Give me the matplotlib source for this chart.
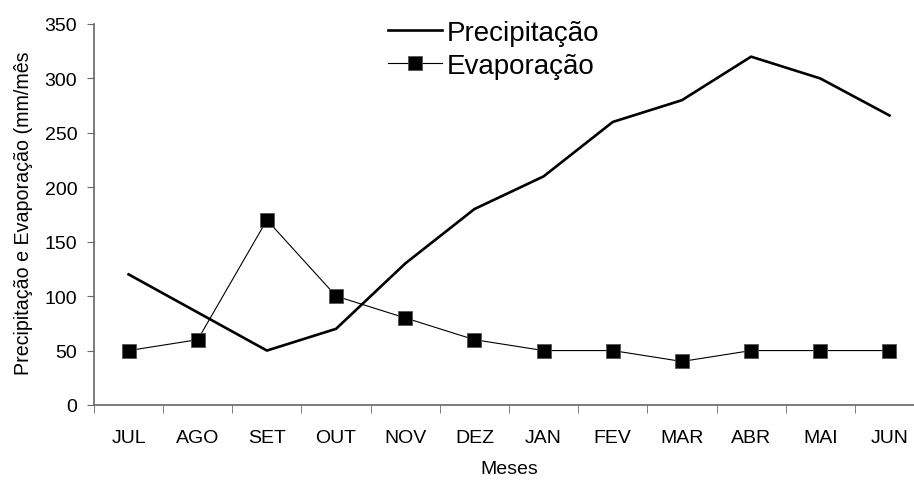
import matplotlib
matplotlib.use("Agg")
import matplotlib.pyplot as plt
import numpy as np

plt.rcParams['font.family'] = ['Liberation Sans', 'DejaVu Sans']

meses = ["JUL", "AGO", "SET", "OUT", "NOV", "DEZ", "JAN", "FEV", "MAR", "ABR", "MAI", "JUN"]
precipitacao = [120, 85, 50, 70, 130, 180, 210, 260, 280, 320, 300, 266]
evaporacao = [50, 60, 170, 100, 80, 60, 50, 50, 40, 50, 50, 50]

fig = plt.figure(figsize=(9.14, 4.81), dpi=100)
# axis runs a bit past the right edge, as in the original
ax = fig.add_axes([94 / 914, 1 - 406 / 481, 830 / 914, 381 / 481])

x = np.arange(len(meses))
ax.plot(x, precipitacao, color="black", lw=1.9, label="Precipitação", zorder=3)
ax.plot(x, evaporacao, color="black", lw=0.8, marker="s", markersize=10,
        markerfacecolor="black", markeredgecolor="#555555", markeredgewidth=0.6,
        label="Evaporação", zorder=4)

ax.set_xlim(-0.5, len(meses) - 0.5)
ax.set_ylim(0, 350)
ax.set_yticks(np.arange(0, 351, 50))
ax.set_xticks(x)
ax.set_xticklabels(meses)
ax.set_xticks(np.arange(-0.5, len(meses), 1), minor=True)
ax.tick_params(axis="x", which="major", length=0, pad=17, labelsize=14)
ax.tick_params(axis="x", which="minor", length=6, direction="out", color="#666666")
ax.tick_params(axis="y", length=5, direction="out", color="#666666", labelsize=14, pad=7)

for s in ["top", "right"]:
    ax.spines[s].set_visible(False)
for s in ["left", "bottom"]:
    ax.spines[s].set_color("#666666")
    ax.spines[s].set_linewidth(1.2)

ax.set_xlabel("Meses", fontsize=14, labelpad=10)
ax.set_ylabel("Precipitação e Evaporação (mm/mês", fontsize=14.1)
ax.yaxis.set_label_coords(-0.074, 0.507)

fig.legend(loc="upper left", bbox_to_anchor=(388 / 914, 1 - 21 / 481), frameon=False,
           fontsize=20, handlelength=1.95, handletextpad=0.18, labelspacing=0.25,
           borderpad=0, borderaxespad=0)

fig.savefig("out.png", dpi=100)
